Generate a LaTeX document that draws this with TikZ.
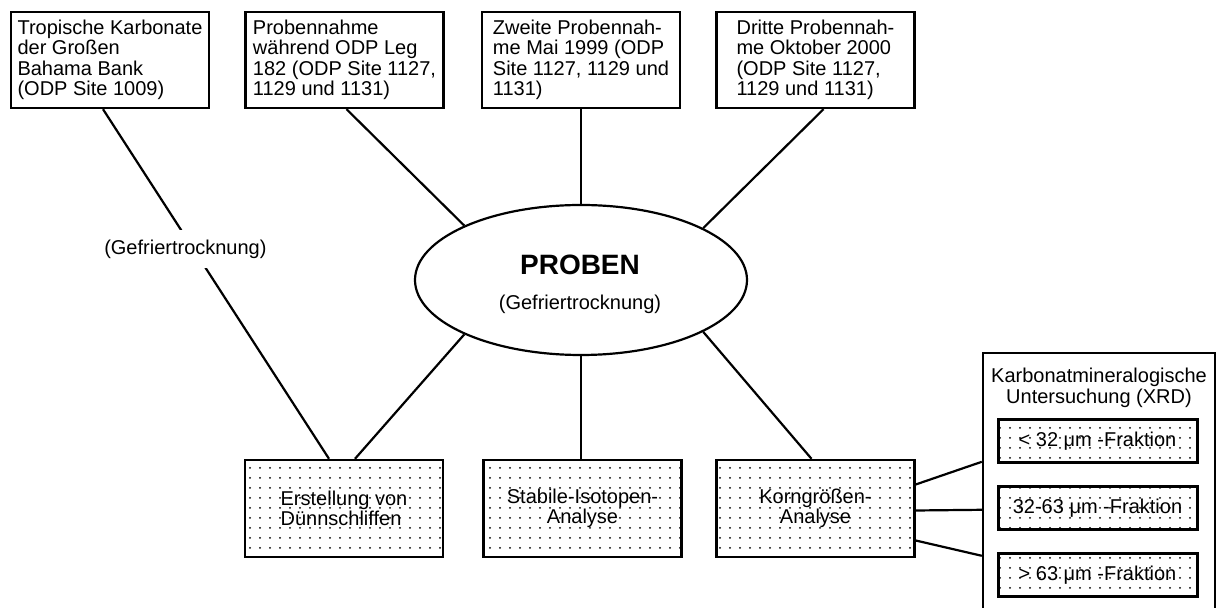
\documentclass[tikz,border=0pt]{standalone}
\usepackage{fontspec}
\setmainfont{Liberation Sans}
\usetikzlibrary{shapes.geometric,patterns.meta}

\tikzset{
  grundschrift/.style={font=\fontsize{10}{10.2}\selectfont},
  quelle/.style={draw, line width=1.2pt, grundschrift, align=left, minimum width=99pt, minimum height=48pt, inner sep=2pt},
  punkte/.style={pattern={Dots[distance=5pt,radius=0.5pt]}},
  analyse/.style={draw, line width=1.2pt, grundschrift, punkte, align=center, minimum width=99pt, minimum height=48.5pt},
  fraktion/.style={draw, line width=1.5pt, grundschrift, punkte, minimum width=99.5pt, minimum height=21.5pt, inner sep=1pt},
  verb/.style={line width=1.1pt}
}

\begin{document}
\begin{tikzpicture}[x=0.5pt,y=-0.5pt]
  \useasboundingbox (0,0) rectangle (1217,608);

  \node[quelle] (b1) at (110,60) {Tropische Karbonate\\der Großen\\Bahama Bank\\(ODP Site 1009)};
  \node[quelle] (b2) at (344.5,60) {Probennahme\\während ODP Leg\\182 (ODP Site 1127,\\1129 und 1131)};
  \node[quelle] (b3) at (581,60) {Zweite Probennah-\\me Mai 1999 (ODP\\Site 1127, 1129 und\\1131)};
  \node[quelle] (b4) at (815.5,60) {Dritte Probennah-\\me Oktober 2000\\(ODP Site 1127,\\1129 und 1131)};

  \node[ellipse, draw, line width=1.1pt, minimum width=166pt, minimum height=75pt, inner sep=0pt] (pr) at (581,280) {};
  \node[font=\fontsize{14}{14}\bfseries\selectfont] (prtitel) at (580,265) {PROBEN};
  \node[grundschrift] (prtrocken) at (580,304) {(Gefriertrocknung)};

  \node[analyse, align=left] (e1) at (344,508.5) {Erstellung von\\Dünnschliffen};
  \node[analyse] (e2) at (582.5,508.5) {Stabile-Isotopen-\\Analyse};
  \node[analyse] (e3) at (815.5,508.5) {Korngrößen-\\Analyse};

  \node[draw, line width=1.2pt, minimum width=116pt, minimum height=132pt, inner sep=0pt] (xrd) at (1099,485) {};
  \node[grundschrift, align=center] (xrdtitel) at (1099,388) {Karbonatmineralogische\\Untersuchung (XRD)};
  \node[fraktion] (f1) at (1097.5,441) {< 32 μm -Fraktion};
  \node[fraktion] (f2) at (1097.5,508.5) {32-63 μm -Fraktion};
  \node[fraktion] (f3) at (1097.5,575) {> 63 μm -Fraktion};

  \path[verb]
  ([xshift=-3.5pt]b1.south) edge node [pos=0.4, fill=white, grundschrift, inner xsep=1pt, inner ysep=5pt, xshift=-4pt] (trocken) {(Gefriertrocknung)} ([xshift=-7.5pt]e1.north)
  ([xshift=1pt]b2.south) edge (pr.155)
  (b3.south) edge (pr.north)
  ([xshift=4pt]b4.south) edge (pr.23)
  (pr.205) edge ([xshift=5.5pt]e1.north)
  (pr.south) edge (pr.south |- e2.north)
  (pr.337) edge ([xshift=-2pt]e3.north)
  ([yshift=12pt]e3.east) edge ([yshift=-55pt]xrd.north west)
  ([yshift=-1pt]e3.east) edge ([yshift=-79pt]xrd.north west)
  ([yshift=-16pt]e3.east) edge ([yshift=-102pt]xrd.north west)
;
\end{tikzpicture}
\end{document}
